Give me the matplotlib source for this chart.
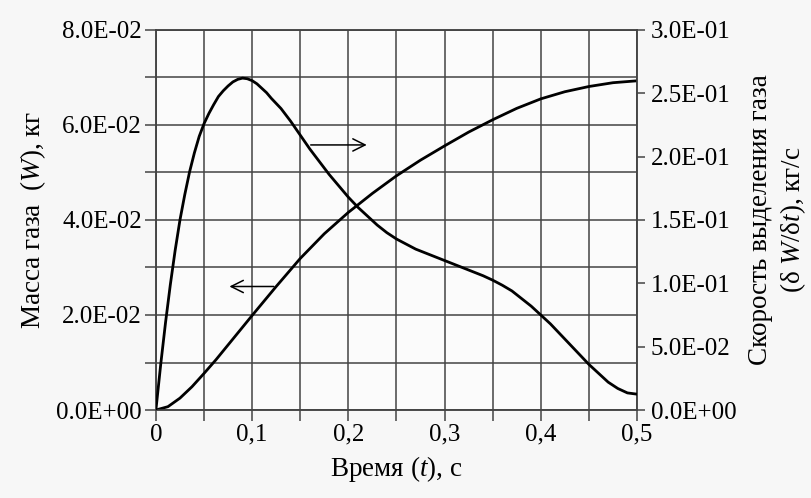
import matplotlib
matplotlib.use("Agg")
import matplotlib.pyplot as plt
from matplotlib.ticker import MultipleLocator, FuncFormatter

# Mass of gas W (left axis), kg
t_mass = [0, 0.0125, 0.025, 0.0375, 0.05, 0.0625, 0.075, 0.1, 0.125, 0.15, 0.175, 0.2,
          0.225, 0.25, 0.275, 0.3, 0.325, 0.35, 0.375, 0.4, 0.425, 0.45, 0.475, 0.5]
mass = [0, 0.0007, 0.0025, 0.0049, 0.0077, 0.0106, 0.0137, 0.0199, 0.0260, 0.0319, 0.0371, 0.0416,
        0.0456, 0.0493, 0.0526, 0.0556, 0.0585, 0.0611, 0.0635, 0.0655, 0.0670, 0.0681, 0.0689, 0.0693]

# Gas release rate dW/dt (right axis), kg/s
t_rate = [0, 0.005, 0.01, 0.015, 0.02, 0.025, 0.03, 0.035, 0.04, 0.045, 0.05, 0.055, 0.06,
          0.065, 0.07, 0.075, 0.08, 0.085, 0.09, 0.095, 0.10, 0.105, 0.11, 0.115, 0.12,
          0.13, 0.14, 0.15, 0.16, 0.17, 0.18, 0.19, 0.20, 0.21, 0.22, 0.23,
          0.24, 0.25, 0.26, 0.27, 0.28, 0.30, 0.32, 0.34, 0.35, 0.36, 0.37, 0.38, 0.39,
          0.40, 0.41, 0.42, 0.43, 0.44, 0.45, 0.46, 0.47, 0.48, 0.49, 0.50]
rate = [0, 0.036, 0.069, 0.099, 0.126, 0.150, 0.170, 0.188, 0.203, 0.216, 0.226, 0.234, 0.241,
        0.2475, 0.252, 0.2558, 0.259, 0.2610, 0.262, 0.2615, 0.260, 0.2575, 0.254, 0.2505, 0.246,
        0.238, 0.228, 0.217, 0.206, 0.196, 0.186, 0.177, 0.168, 0.160, 0.153, 0.146,
        0.140, 0.135, 0.131, 0.127, 0.124, 0.118, 0.112, 0.106, 0.1025, 0.0985, 0.094, 0.088, 0.082,
        0.075, 0.068, 0.060, 0.052, 0.044, 0.036, 0.029, 0.022, 0.017, 0.0135, 0.0125]

x_ticks = [0, 0.1, 0.2, 0.3, 0.4, 0.5]

plt.rcParams['font.family'] = ['Liberation Serif', 'DejaVu Serif']
plt.rcParams['mathtext.fontset'] = 'custom'
plt.rcParams['mathtext.rm'] = 'Liberation Serif'
plt.rcParams['mathtext.it'] = 'Liberation Serif:italic'

fig = plt.figure(figsize=(8.12, 4.98), dpi=100, facecolor='#f7f7f7')
ax = fig.add_axes([0.192, 0.1767, 0.5925, 0.7631])
ax.set_facecolor('#fbfbfb')
grid_c = '#444444'

ax.plot(t_mass, mass, color='black', lw=2.0, zorder=3, solid_joinstyle='round')
ax.set_xlim(0, 0.5)
ax.set_ylim(0, 0.08)
ax.xaxis.set_major_locator(MultipleLocator(0.05))
ax.yaxis.set_major_locator(MultipleLocator(0.01))
ax.xaxis.set_major_formatter(FuncFormatter(
    lambda v, p: (('%g' % round(v, 2)).replace('.', ',')) if abs(round(v * 10) - v * 10) < 1e-6 else ''))
ax.yaxis.set_major_formatter(FuncFormatter(
    lambda v, p: ('%.1E' % v) if abs(round(v * 50) - v * 50) < 1e-6 else ''))
ax.grid(True, color=grid_c, lw=1.1)
ax.set_axisbelow(True)
for s in ax.spines.values():
    s.set_color(grid_c)
    s.set_linewidth(1.1)
ax.tick_params(axis='both', direction='out', length=8, width=1.1, color=grid_c,
               labelsize=18, pad=2)
ax.set_xlabel('Время ($\\mathit{t}$), с', fontsize=19.5, labelpad=6)
ax.set_ylabel('Масса газа  ($\\mathit{W}$), кг', fontsize=19.5, labelpad=6)

ax2 = ax.twinx()
ax2.plot(t_rate, rate, color='black', lw=2.0, zorder=3, solid_joinstyle='round')
ax2.set_ylim(0, 0.3)
ax2.yaxis.set_major_locator(MultipleLocator(0.05))
ax2.yaxis.set_major_formatter(FuncFormatter(lambda v, p: '%.1E' % v))
ax2.tick_params(axis='y', direction='out', length=6, width=1.1, color=grid_c,
                labelsize=18, pad=4)
for s in ax2.spines.values():
    s.set_color(grid_c)
    s.set_linewidth(1.1)
ax2.set_ylabel('Скорость выделения газа\n(δ $\\mathit{W}$/δ$\\mathit{t}$), кг/с',
               fontsize=19.5, labelpad=8, linespacing=1.25)

# arrows indicating axes
ax.annotate('', xy=(0.222, 0.0558), xytext=(0.158, 0.0558),
            arrowprops=dict(arrowstyle='->', color='black', lw=1.1,
                            mutation_scale=22))
ax.annotate('', xy=(0.0735, 0.026), xytext=(0.1255, 0.026),
            arrowprops=dict(arrowstyle='->', color='black', lw=1.1,
                            mutation_scale=22))

fig.savefig('out.png', dpi=100, facecolor=fig.get_facecolor())
